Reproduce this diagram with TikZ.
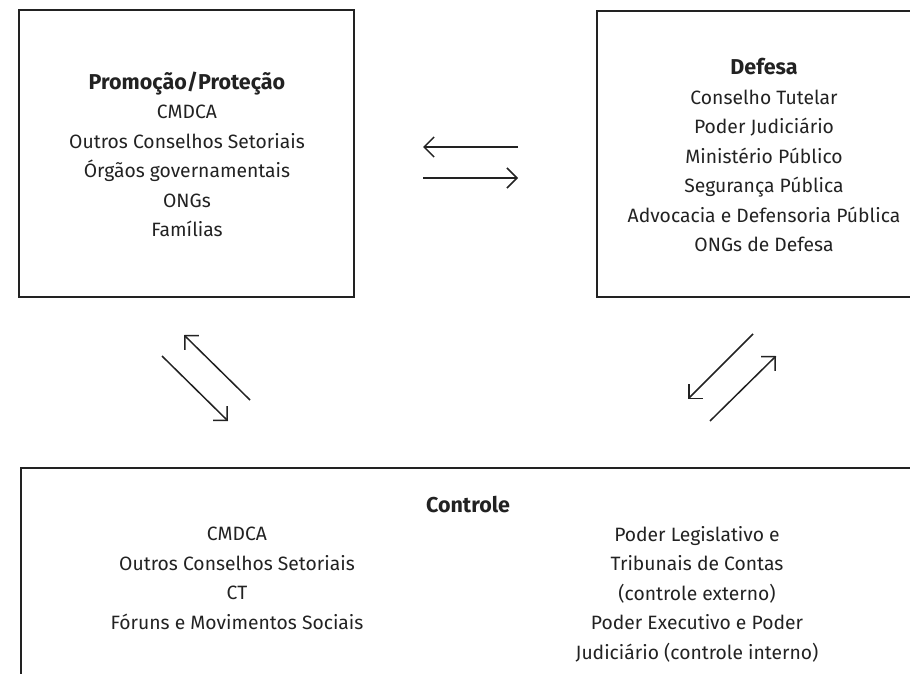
\documentclass[tikz,border=0pt]{standalone}
\usepackage{fontspec}
\setmainfont{Fira Sans}
\usetikzlibrary{arrows.meta}
\definecolor{ink}{HTML}{222222}
\newcommand{\ttl}[1]{{\fontsize{21.5}{29.5}\selectfont\bfseries #1}}
\tikzset{
  boxline/.style={draw=ink, line width=1.3pt},
  boxtext/.style={align=center, text=ink, font=\fontsize{19.3}{29.5}\selectfont, inner sep=0pt},
  flow/.style={draw=ink, line width=1.5pt, -{Straight Barb[length=10pt,width=20pt,line width=1.5pt]}}
}
\begin{document}
\begin{tikzpicture}[x=1pt,y=-1pt]
\useasboundingbox (0,0) rectangle (910,674);
\clip (0,0) rectangle (910,674);
% boxes
\node[boxline, minimum width=335pt, minimum height=287pt, inner sep=0pt] (prom) at (186.5,153.5) {};
\node[boxline, minimum width=334pt, minimum height=286pt, inner sep=0pt] (def) at (764,154) {};
\draw[boxline] (1000,468) -- (21,468) -- (21,800);
% texts
\node[boxtext] (promt) at (187,154.5) {\ttl{Promoção/Proteção}\\CMDCA\\Outros Conselhos Setoriais\\Órgãos governamentais\\ONGs\\Famílias};
\node[boxtext] (deft) at (764,155) {\ttl{Defesa}\\Conselho Tutelar\\Poder Judiciário\\Ministério Público\\Segurança Pública\\Advocacia e Defensoria Pública\\ONGs de Defesa};
\node[boxtext] (ctrl) at (468,505) {\ttl{Controle}};
\node[boxtext] (ctrlL) at (237,578.5) {CMDCA\\Outros Conselhos Setoriais\\CT\\Fóruns e Movimentos Sociais};
\node[boxtext] (ctrlR) at (697,594) {Poder Legislativo e\\Tribunais de Contas\\(controle externo)\\Poder Executivo e Poder\\Judiciário (controle interno)};
% arrow end points
\coordinate (h1s) at (518,147); \coordinate (h1e) at (423,147);
\coordinate (h2s) at (423,178); \coordinate (h2e) at (518,178);
\coordinate (l1s) at (162,356); \coordinate (l1e) at (228,421);
\coordinate (l2s) at (250,400); \coordinate (l2e) at (184,335);
\coordinate (r1s) at (753,334); \coordinate (r1e) at (688,399);
\coordinate (r2s) at (710,421); \coordinate (r2e) at (776,356);
\draw[flow] (h1s) -- (h1e);
\draw[flow] (h2s) -- (h2e);
\draw[flow] (l1s) -- (l1e);
\draw[flow] (l2s) -- (l2e);
\draw[flow] (r1s) -- (r1e);
\draw[flow] (r2s) -- (r2e);
\end{tikzpicture}
\end{document}
